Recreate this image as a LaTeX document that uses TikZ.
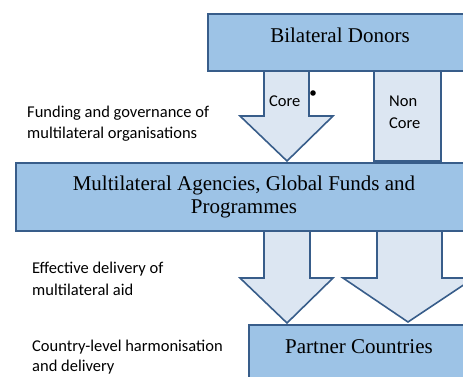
\documentclass[tikz,border=0pt]{standalone}
\usepackage{fontspec}
\setmainfont{Liberation Serif}
\newfontfamily\calfont{Carlito}
\definecolor{boxfill}{HTML}{9DC3E6}
\definecolor{boxline}{HTML}{385D8A}
\definecolor{arrfill}{HTML}{DCE6F2}
\begin{document}
\begin{tikzpicture}[x=1pt,y=-1pt,
  blk/.style={draw=boxline,fill=boxfill,line width=1.6pt},
  barrow/.style={draw=boxline,fill=arrfill,line width=1.6pt,line join=miter},
  boxtext/.style={font=\fontsize{21}{23}\selectfont,anchor=base,inner sep=0pt},
  side/.style={font=\calfont\fontsize{16.5}{21}\selectfont,anchor=base west,inner sep=0pt},
  armtext/.style={font=\calfont\fontsize{16.5}{21}\selectfont,anchor=base west,inner sep=0pt}]
\useasboundingbox (0,0) rectangle (463,376);
\clip (0,0) rectangle (463,376);
% block arrows
\path[barrow] (264,71) -- (309,71) -- (309,116) -- (333,116) -- (287,161) -- (240,116) -- (264,116) -- cycle;
\path[barrow] (374,71) rectangle (441,161);
\path[barrow] (264,231) -- (310,231) -- (310,278) -- (333,278) -- (287,323) -- (240,278) -- (264,278) -- cycle;
\path[barrow] (377,231) -- (442,231) -- (442,278) -- (474,278) -- (408,322) -- (343,278) -- (377,278) -- cycle;
% boxes
\path[blk] (208,14) rectangle (480,71);
\path[blk] (16,163) rectangle (480,231);
\path[blk] (249,325) rectangle (480,395);
% box texts
\node[boxtext] (bd) at (340,42) {Bilateral Donors};
\node[boxtext] (ma1) at (244,190) {Multilateral Agencies, Global Funds and};
\node[boxtext] (ma2) at (244,213) {Programmes};
\node[boxtext] (pc) at (359,353) {Partner Countries};
% arrow labels
\node[armtext] (core) at (269,106) {Core};
\node[armtext] (non1) at (389,106) {Non};
\node[armtext] (non2) at (389,128) {Core};
\fill (313,93) circle (2.8pt);
% side texts
\node[side] (f1) at (27,117) {Funding and governance of};
\node[side] (f2) at (27,138) {multilateral\ organisations};
\node[side] (e1) at (32,273) {Effective delivery of};
\node[side] (e2) at (32,295) {multilateral\ aid};
\node[side] (c1) at (32,351) {Country-level harmonisation};
\node[side] (c2) at (32,371) {and delivery};
\end{tikzpicture}
\end{document}
